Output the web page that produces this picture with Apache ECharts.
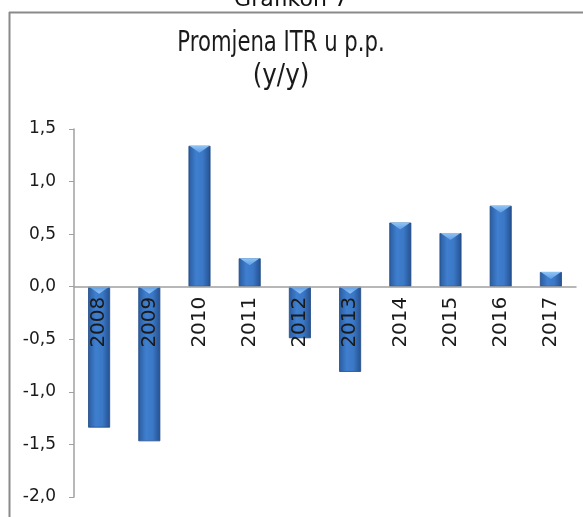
<!DOCTYPE html>
<html>
<head>
<meta charset="utf-8">
<script src="https://cdn.jsdelivr.net/npm/echarts@6/dist/echarts.min.js"></script>
<style>
html,body{margin:0;padding:0;background:#fff;}
#c{width:583px;height:517px;}
</style>
</head>
<body>
<div id="c"></div>
<script>
var categories = ['2008','2009','2010','2011','2012','2013','2014','2015','2016','2017'];
var values = [-1.34, -1.47, 1.34, 0.27, -0.49, -0.81, 0.61, 0.51, 0.77, 0.14];
var yTicks = {min: -2, max: 1.5, interval: 0.5};
var titleLines = ['Promjena ITR u p.p.', '(y/y)'];
var supTitle = 'Grafikon 7';

var FONT = 'DejaVu Sans';
var GRID = {left: 74, right: 7, top: 129, bottom: 20};
var H = 517;
var gridH = H - GRID.top - GRID.bottom;
var zeroOffset = -gridH * (0 - yTicks.min) / (yTicks.max - yTicks.min);

var chart = echarts.init(document.getElementById('c'), null, {renderer: 'canvas'});

var barColor = new echarts.graphic.LinearGradient(0, 0, 1, 0, [
  {offset: 0, color: '#2a5b9e'},
  {offset: 0.35, color: '#3f7fcf'},
  {offset: 0.65, color: '#3b78c6'},
  {offset: 1, color: '#24508f'}
]);

chart.setOption({
  animation: false,
  backgroundColor: '#ffffff',
  grid: {left: GRID.left, right: GRID.right, top: GRID.top, bottom: GRID.bottom, containLabel: false, outerBoundsMode: 'none'},
  graphic: [
    {type: 'text', x: 291, y: -11, z: 100, style: {text: supTitle, font: '22px ' + FONT, fill: '#111', align: 'center', verticalAlign: 'top'}},
    {type: 'line', shape: {x1: 9, y1: 12.5, x2: 583, y2: 12.5}, style: {stroke: '#8a8a8a', lineWidth: 2}},
    {type: 'line', shape: {x1: 9.5, y1: 12, x2: 9.5, y2: 517}, style: {stroke: '#8a8a8a', lineWidth: 2}},
    {type: 'text', x: 281, y: 29, scaleX: 0.73, style: {text: titleLines[0], font: '29px ' + FONT, fill: '#1a1a1a', align: 'center', verticalAlign: 'top'}},
    {type: 'text', x: 281, y: 62, scaleX: 0.85, style: {text: titleLines[1], font: '29px ' + FONT, fill: '#1a1a1a', align: 'center', verticalAlign: 'top'}}
  ],
  xAxis: {
    type: 'category',
    data: categories,
    position: 'bottom',
    offset: zeroOffset,
    z: 10,
    axisLine: {onZero: false, lineStyle: {color: '#a0a0a0', width: 1.5}},
    axisTick: {show: false},
    axisLabel: {rotate: 90, margin: 10, fontFamily: FONT, fontSize: 20, color: '#1a1a1a'},
    splitLine: {show: false}
  },
  yAxis: {
    type: 'value',
    min: yTicks.min, max: yTicks.max, interval: yTicks.interval,
    axisLine: {show: true, lineStyle: {color: '#a0a0a0', width: 1.5}},
    axisTick: {show: true, length: 5, lineStyle: {color: '#a0a0a0'}},
    splitLine: {show: false},
    axisLabel: {
      margin: 18, fontFamily: FONT, fontSize: 17, color: '#1a1a1a',
      formatter: function (v) { return v.toFixed(1).replace('.', ','); }
    }
  },
  series: [
    {
      type: 'bar',
      data: values,
      barWidth: 22,
      itemStyle: {color: barColor, borderColor: '#1f4a85', borderWidth: 0.8},
      z: 2
    },
    {
      type: 'pictorialBar',
      data: values.map(function (v) {
        return v >= 0
          ? {value: v, symbolPosition: 'end', symbol: 'path://M0,0 L20,0 L10,7 Z'}
          : {value: v, symbolPosition: 'start', symbol: 'path://M0,7 L20,7 L10,0 Z'};
      }),
      symbolSize: [20, 7],
      itemStyle: {color: new echarts.graphic.LinearGradient(0, 0, 0, 1, [
        {offset: 0, color: '#8fc3f5'}, {offset: 1, color: '#5e9de4'}
      ])},
      z: 3,
      silent: true
    }
  ]
});
</script>
</body>
</html>
